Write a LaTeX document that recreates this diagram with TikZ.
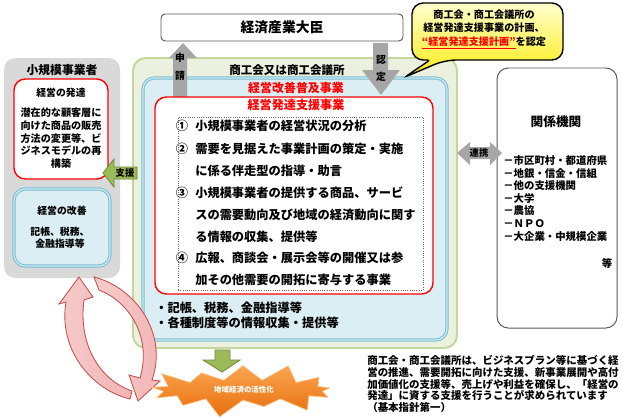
\documentclass[tikz,border=0pt]{standalone}
\usepackage{fontspec}
\setmainfont{Noto Sans CJK JP}
\usetikzlibrary{fit,shapes.symbols}
\definecolor{grisbox}{RGB}{217,217,217}
\definecolor{verdefondo}{RGB}{235,241,222}
\definecolor{verdeborde}{RGB}{195,214,155}
\definecolor{azulfondo}{RGB}{218,238,243}
\definecolor{azulborde}{RGB}{120,190,212}
\definecolor{azulclaro}{RGB}{205,232,240}
\definecolor{rojo}{RGB}{255,0,0}
\definecolor{grisflecha}{RGB}{166,166,166}
\definecolor{olivo}{RGB}{155,187,89}
\definecolor{olivoborde}{RGB}{113,137,63}
\definecolor{naranja}{RGB}{250,165,80}
\definecolor{naranjaosc}{RGB}{232,110,12}
\definecolor{rosa}{RGB}{242,180,180}
\definecolor{rosaborde}{RGB}{192,80,77}
\definecolor{amarilloclaro}{RGB}{255,255,205}
\definecolor{amarillo}{RGB}{255,236,20}
\begin{document}
\begin{tikzpicture}[x=0.025cm, y=-0.025cm,
    every node/.style={inner sep=0pt, font=\bfseries},
    letra/.style 2 args={font=\bfseries\fontsize{#1}{#2}\selectfont},
    marco/.style={rounded corners=8pt, line width=0.8pt},
    marcoazul/.style={marco, fill=azulfondo, draw=azulborde, double=azulclaro, double distance=0.9pt, line width=0.7pt},
    marcorojo/.style={marco, fill=white, draw=rojo, line width=1pt},
    marcoblanco/.style={marco, fill=white, draw=black!65, line width=0.7pt},
    flechagris/.style={fill=grisflecha},
    flechaverde/.style={fill=olivo, draw=olivoborde, line width=0.6pt},
    flecharosa/.style={left color=rosa!70!white, right color=rosa, draw=rosaborde, line width=0.6pt},
    lista/.style={letra={8.7pt}{15.6pt}, align=left, anchor=west}]
    \useasboundingbox (0,0) rectangle (623,417);

    % Sector de pequenas empresas
    \node[fit={(4,58) (120,278)}, marco, fill=grisbox] (shokibo) {};
    \node[letra={8.4pt}{10pt}] (titshokibo) at (62,70) {小規模事業者};
    \node[fit={(14,79) (108,179)}, marcorojo] (hattatsu) {};
    \node[letra={7pt}{9pt}] (tithattatsu) at (61,93) {経営の発達};
    \node[letra={7.2pt}{9.1pt}, align=center] (txthattatsu) at (61,138.3)
        {潜在的な顧客層に\\向けた商品の販売\\方法の変更等、ビ\\ジネスモデルの再\\構築};
    \node[fit={(14,189) (110,266)}, marcoazul] (kaizen) {};
    \node[letra={7pt}{9pt}] (titkaizen) at (62,211) {経営の改善};
    \node[letra={7pt}{8.3pt}, align=center] (txtkaizen) at (60,237.5) {記帳、税務、\\金融指導等};

    % Ministro
    \node[fit={(161,14) (403,41)}, marcoblanco, rounded corners=3pt] (daijin) {};
    \node[letra={9.8pt}{12pt}] (titdaijin) at (282,27.5) {経済産業大臣};

    % Camara de comercio
    \node[fit={(133,58) (457,348)}, marco, rounded corners=9pt, fill=verdefondo, draw=verdeborde, line width=1.4pt] (shokokai) {};
    \node[letra={8.2pt}{10pt}] (titshokokai) at (287,70) {商工会又は商工会議所};
    \node[fit={(143,78) (447,340)}, marcoazul] (fukyu) {};
    \node[letra={8.5pt}{10pt}, text=rojo] (titfukyu) at (296,88) {経営改善普及事業};

    % Flechas de solicitud y aprobacion
    \fill[flechagris] (173,97) -- (173,58) -- (169,58) -- (183,43) -- (197,58) -- (187,58) -- (187,97) -- cycle;
    \node[letra={7pt}{12.5pt}, align=center] (shinsei) at (180,67) {申\\請};
    \fill[flechagris] (373,43) -- (388,43) -- (388,70) -- (400,70) -- (381,95) -- (362,70) -- (373,70) -- cycle;
    \node[letra={7pt}{12.5pt}, align=center] (nintei) at (381,68.5) {認\\定};

    % Programa de apoyo
    \node[fit={(155,97) (433,294)}, marcorojo] (shien) {};
    \node[letra={8.6pt}{10pt}, text=rojo] (titshien) at (296,105) {経営発達支援事業};
    \node[fit={(178,117) (423,290)}, densely dotted, draw=black!60, line width=0.6pt] (puntos) {};
    \node[letra={8.7pt}{10pt}] (n1) at (182,126) {①};
    \node[lista] (p1) at (195,126) {小規模事業者の経営状況の分析};
    \node[letra={8.7pt}{10pt}] (n2) at (182,149) {②};
    \node[lista] (p2) at (195,160) {需要を見据えた事業計画の策定・実施\\に係る伴走型の指導・助言};
    \node[letra={8.7pt}{10pt}] (n3) at (182,193) {③};
    \node[lista] (p3) at (195,214.5) {小規模事業者の提供する商品、サービ\\スの需要動向及び地域の経済動向に関す\\る情報の収集、提供等};
    \node[letra={8.7pt}{10pt}] (n4) at (182,258) {④};
    \node[lista] (p4) at (195,268.5) {広報、商談会・展示会等の開催又は参\\加その他需要の開拓に寄与する事業};
    \node[lista] (b1) at (155,308) {・記帳、税務、金融指導等};
    \node[lista] (b2) at (155,323) {・各種制度等の情報収集・提供等};

    % Globo de dialogo
    \draw[top color=amarilloclaro, bottom color=amarillo, draw=black, line width=1pt, rounded corners=8pt]
        (412,3) -- (563,3) -- (563,60) -- (445,60) [rounded corners=2pt] -- (405,77) -- (430,60) [rounded corners=8pt] -- (412,60) -- cycle;
    \node[letra={7.2pt}{9.6pt}, align=center] (globo) at (484,29.5)
        {商工会・商工会議所の\\経営発達支援事業の計画、\\\textcolor{rojo}{\underline{“経営発達支援計画”}}を認定};

    % Organismos relacionados
    \node[fit={(497,68) (617,328)}, marcoblanco] (kankei) {};
    \node[letra={9pt}{10pt}] (titkankei) at (556,122) {関係機関};
    \node[letra={7.4pt}{8.9pt}, align=left, anchor=west] (lstkankei) at (503,198.5)
        {－市区町村・都道府県\\－地銀・信金・信組\\－他の支援機関\\－大学\\－農協\\－ＮＰＯ\\－大企業・中規模企業};
    \node[letra={7.4pt}{9pt}] (tokankei) at (607,263) {等};

    % Flecha de cooperacion
    \fill[flechagris] (457,153) -- (470,142) -- (470,147) -- (490,147) -- (490,142) -- (502,153) -- (490,165) -- (490,159) -- (470,159) -- (470,165) -- cycle;
    \node[letra={6.6pt}{8pt}] (renkei) at (479,153) {連携};

    % Flecha de apoyo
    \draw[flechaverde] (137,167) -- (114,167) -- (114,159) -- (103,173) -- (114,187) -- (114,179) -- (137,179) -- cycle;
    \node[letra={6.6pt}{8pt}] (shienflecha) at (125,173) {支援};

    % Ciclo de flechas
    \draw[flecharosa] (130,399) .. controls (92,390) and (58,350) .. (66,302) -- (59,304) -- (79,277) -- (93,297) -- (84,300)
        .. controls (78,345) and (100,380) .. (132,391) -- cycle;
    \draw[flecharosa] (94,277) .. controls (137,288) and (168,335) .. (152,380) -- (160,381) -- (138,401) -- (129,375) -- (140,378)
        .. controls (152,338) and (130,302) .. (99,290) -- cycle;

    % Resultado regional
    \draw[flechaverde] (215,350) -- (230,350) -- (230,360) -- (240,360) -- (222,372) -- (203,360) -- (215,360) -- cycle;
    \node[starburst, starburst points=13, starburst point height=0.5cm, minimum width=5cm, minimum height=1.5cm,
        top color=naranja, bottom color=naranjaosc, draw=naranja!70!white, line width=0.5pt] (kasseika) at (243,390) {};
    \node[letra={5.3pt}{6pt}, text=white] (titkasseika) at (244,390) {地域経済の活性化};

    % Texto explicativo
    \node[letra={7.45pt}{8.2pt}, align=left, anchor=west] (nota) at (367,384)
        {商工会・商工会議所は、ビジネスプラン等に基づく経\\営の推進、需要開拓に向けた支援、新事業展開や高付\\加価値化の支援等、売上げや利益を確保し、「経営の\\発達」に資する支援を行うことが求められています\\（基本指針第一）};
\end{tikzpicture}
\end{document}
